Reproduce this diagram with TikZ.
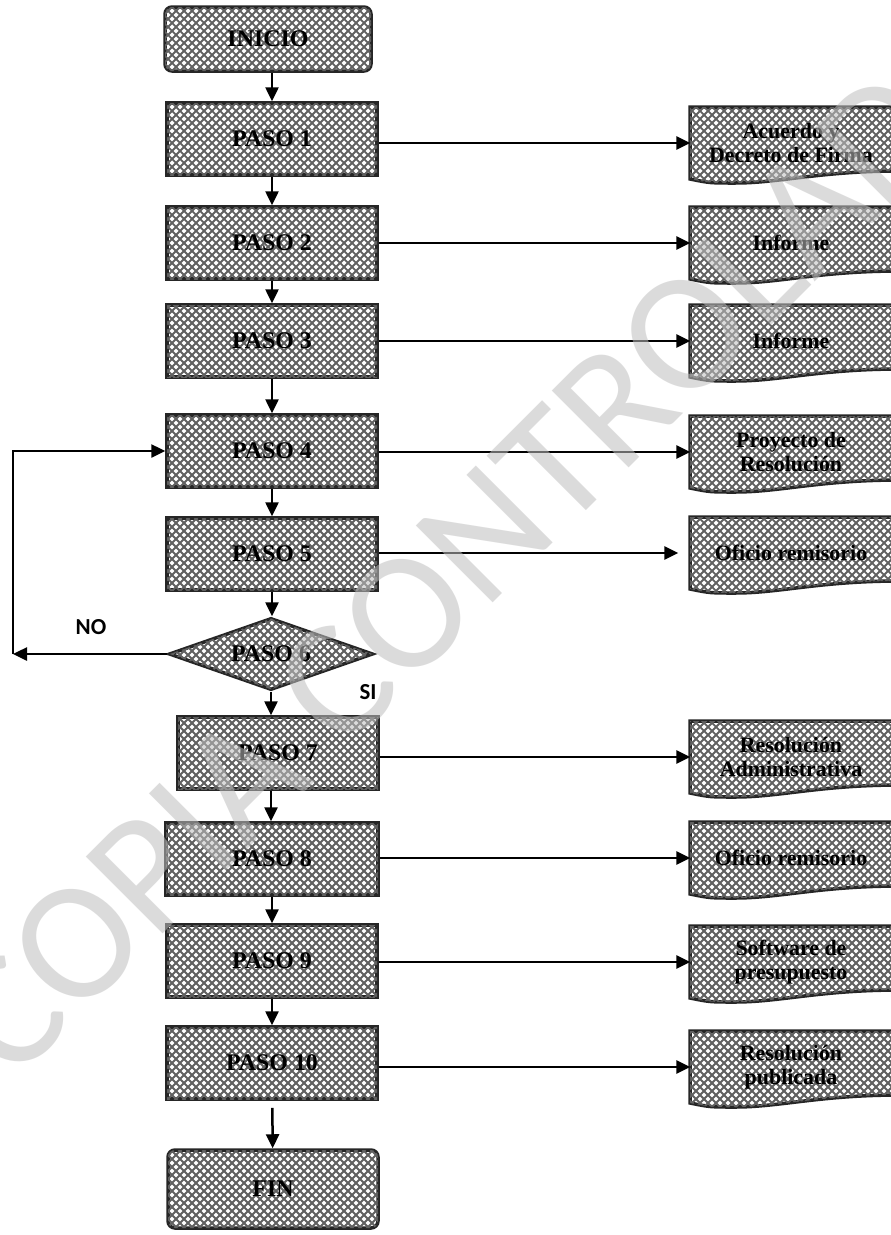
\documentclass[tikz,border=0pt]{standalone}
\usepackage{fontspec}
\setmainfont{Liberation Serif}
\newfontfamily\lblfont{Carlito}
\usetikzlibrary{arrows.meta,shapes.geometric,patterns}
\pgfdeclarepatternformonly{mych}{\pgfqpoint{-1bp}{-1bp}}{\pgfqpoint{9bp}{9bp}}{\pgfqpoint{8bp}{8bp}}{%
 \pgfsetlinewidth{1.8bp}%
 \pgfpathmoveto{\pgfqpoint{0bp}{0bp}}\pgfpathlineto{\pgfqpoint{8bp}{8bp}}%
 \pgfpathmoveto{\pgfqpoint{0bp}{8bp}}\pgfpathlineto{\pgfqpoint{8bp}{0bp}}%
 \pgfusepath{stroke}}
\pgfdeclarelayer{fg}
\pgfsetlayers{main,fg}
\newcommand\docnode[3]{%
 \path[docshape] (690,{#2-36}) -- (900,{#2-36}) -- (900,{#2+28}) .. controls (820,{#2+28}) and (780,{#2+40}) .. (735,{#2+40}) .. controls (710,{#2+40}) .. (690,{#2+36}) -- cycle;
 \node[outtext] (#1) at (791,#2) {#3};}
\begin{document}
\begin{tikzpicture}[x=1bp,y=-1bp,
 box/.style={draw=black!85, line width=3.5bp, fill=white, postaction={pattern=mych, pattern color=black!62}, inner sep=0pt, font=\bfseries\fontsize{24}{26}\selectfont},
 stepbox/.style={box, rectangle, minimum width=210bp, minimum height=72bp},
 termbox/.style={box, rectangle, rounded corners=7bp, minimum width=206bp, minimum height=64bp},
 decbox/.style={box, diamond, aspect=2.8, minimum width=204bp, minimum height=72bp},
 outtext/.style={minimum width=201bp, minimum height=70bp, inner sep=0pt, align=center, font=\bfseries\fontsize{22}{24}\selectfont},
 docshape/.style={draw=black!85, line width=3.5bp, fill=white, postaction={pattern=mych, pattern color=black!62}},
 arr/.style={line width=2.5bp, -{Triangle[length=14bp,width=13bp]}},
 lbl/.style={font=\lblfont\bfseries\fontsize{23}{25}\selectfont},
]
\useasboundingbox[fill=white] (0,0) rectangle (891,1235);

% main column
\node[termbox] (ini) at (268,39) {INICIO};
\node[stepbox] (p1) at (272,139) {PASO 1};
\node[stepbox] (p2) at (272,243) {PASO 2};
\node[stepbox] (p3) at (272,341) {PASO 3};
\node[stepbox] (p4) at (272,451) {PASO 4};
\node[stepbox] (p5) at (272,554) {PASO 5};
\node[decbox] (p6) at (271,654) {PASO 6};
\node[stepbox, minimum width=200bp] (p7) at (278,753) {PASO 7};
\node[stepbox, minimum width=212bp] (p8) at (272,859) {PASO 8};
\node[stepbox] (p9) at (272,961) {PASO 9};
\node[stepbox] (p10) at (272,1063) {PASO 10};
\node[termbox, minimum width=210bp, minimum height=78bp] (fin) at (273,1189) {FIN};

% output documents
\docnode{o1}{143}{Acuerdo y\\Decreto de Firma}
\docnode{o2}{243}{Informe}
\docnode{o3}{341}{Informe}
\docnode{o4}{452}{Proyecto de\\Resolución}
\docnode{o5}{553}{Oficio remisorio}
\docnode{o7}{757}{Resolución\\Administrativa}
\docnode{o8}{858}{Oficio remisorio}
\docnode{o9}{962}{Software de\\presupuesto}
\docnode{o10}{1067}{Resolución\\publicada}

% vertical flow
\draw[arr] (ini.south -| p1.north) -- (p1.north);
\draw[arr] (p1) -- (p2);
\draw[arr] (p2) -- (p3);
\draw[arr] (p3) -- (p4);
\draw[arr] (p4) -- (p5);
\draw[arr] (p5.south) -- (p5.south |- p6.north);
\draw[arr] (p6.south) -- (p6.south |- p7.north);
\draw[arr] (p7.south -| p6.south) -- (p6.south |- p8.north);
\draw[arr] (p8) -- (p9);
\draw[arr] (p9) -- (p10);
\draw[arr, shorten <=7bp] (p10) -- (fin);

% loop NO
\coordinate (c1) at (13,654);
\draw[arr] (p6.west) -- (c1);
\draw[arr] (c1) |- (p4.west);
\node[lbl] (no) at (91,627) {NO};
\node[lbl] (si) at (368,692) {SI};

% outputs
\draw[arr] (p1.east |- o1.west) -- (o1.west);
\draw[arr] (p2.east |- o2.west) -- (o2.west);
\draw[arr] (p3.east |- o3.west) -- (o3.west);
\draw[arr] (p4.east |- o4.west) -- (o4.west);
\draw[arr, shorten >=12bp] (p5.east |- o5.west) -- (o5.west);
\draw[arr] (p7.east |- o7.west) -- (o7.west);
\draw[arr] (p8.east |- o8.west) -- (o8.west);
\draw[arr] (p9.east |- o9.west) -- (o9.west);
\draw[arr] (p10.east |- o10.west) -- (o10.west);

% watermark
\begin{pgfonlayer}{fg}
\node[rotate=45, text=black!25, opacity=0.55, font=\lblfont\fontsize{170}{170}\selectfont] (wm) at (480,540) {COPIA CONTROLADA};
\end{pgfonlayer}
\end{tikzpicture}
\end{document}
